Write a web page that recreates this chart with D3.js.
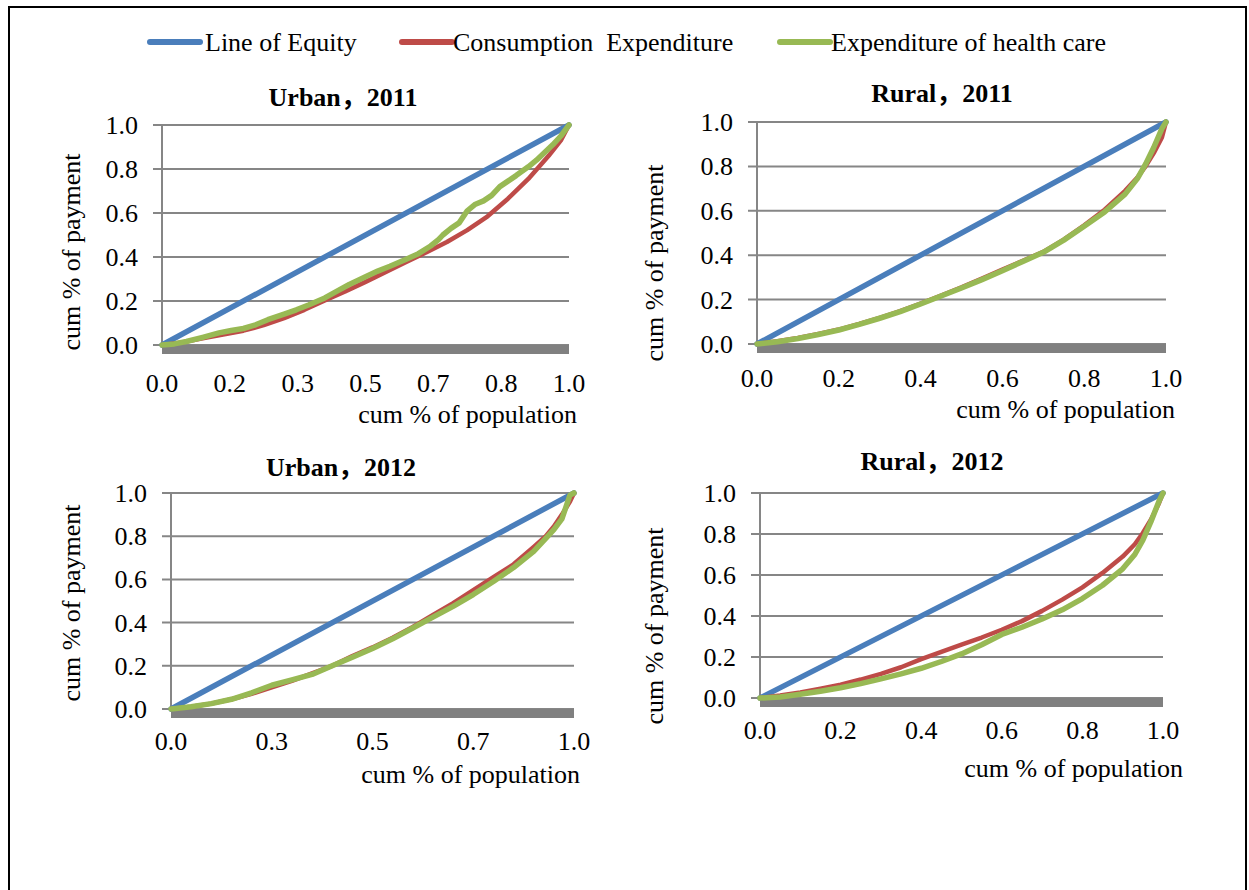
<!DOCTYPE html>
<html><head><meta charset="utf-8">
<script src="https://cdn.jsdelivr.net/npm/d3@7"></script>
<style>body{margin:0;background:#fff}svg{display:block}</style>
</head><body><svg id="c" width="1249" height="890"></svg>
<script>
// ---------- data ----------
const seriesNames = ["Line of Equity", "Consumption  Expenditure", "Expenditure of health care"];
const panelTitles = ["Urban，2011", "Rural，2011", "Urban，2012", "Rural，2012"];
const yTickValues = [0, 0.2, 0.4, 0.6, 0.8, 1.0];
const yTickLabels = ["0.0", "0.2", "0.4", "0.6", "0.8", "1.0"];
const xTickValuesU11 = [0, 0.1667, 0.3333, 0.5, 0.6667, 0.8333, 1];
const xTickLabelsU11 = ["0.0", "0.2", "0.3", "0.5", "0.7", "0.8", "1.0"];
const xTickValuesR11 = [0, 0.2, 0.4, 0.6, 0.8, 1];
const xTickLabelsR11 = ["0.0", "0.2", "0.4", "0.6", "0.8", "1.0"];
const xTickValuesU12 = [0, 0.25, 0.5, 0.75, 1];
const xTickLabelsU12 = ["0.0", "0.3", "0.5", "0.7", "1.0"];
const xTickValuesR12 = [0, 0.2, 0.4, 0.6, 0.8, 1];
const xTickLabelsR12 = ["0.0", "0.2", "0.4", "0.6", "0.8", "1.0"];
const xAxisTitle = "cum % of population";
const yAxisTitle = "cum % of payment";

const equityPop = [0, 1];
const equityShare = [0, 1];

// Urban 2011
const u11ConsPop = [0,.05,.1,.15,.2,.25,.3,.35,.4,.45,.5,.55,.6,.65,.7,.75,.8,.85,.9,.95,.98,1];
const u11Cons    = [0,.012,.03,.047,.065,.09,.122,.16,.202,.243,.287,.332,.377,.422,.468,.522,.585,.665,.755,.86,.93,1];
const u11HealthPop = [0,.03,.06,.1,.14,.17,.2,.23,.26,.3,.33,.36,.4,.43,.46,.5,.53,.56,.6,.63,.66,.68,.69,.71,.73,.75,.77,.79,.81,.83,.85,.87,.9,.92,.94,.96,.98,1];
const u11Health    = [0,.005,.016,.035,.055,.066,.075,.092,.115,.14,.16,.182,.214,.245,.275,.31,.336,.358,.39,.415,.45,.48,.5,.53,.555,.61,.64,.655,.68,.72,.745,.77,.81,.84,.875,.91,.95,1];

// Rural 2011
const r11Pop    = [0,.05,.1,.15,.2,.25,.3,.35,.4,.45,.5,.55,.6,.65,.7,.75,.8,.85,.9,.93,.95,.97,.99,1];
const r11Cons   = [0,.012,.027,.045,.065,.09,.118,.148,.182,.218,.255,.295,.335,.375,.415,.47,.535,.605,.69,.75,.8,.86,.93,1];
const r11Health = [0,.01,.025,.043,.063,.088,.116,.146,.18,.216,.252,.29,.33,.372,.413,.468,.53,.595,.675,.745,.81,.885,.97,1];

// Urban 2012
const u12Pop    = [0,.05,.1,.15,.2,.25,.3,.35,.4,.45,.5,.55,.6,.65,.7,.75,.8,.85,.9,.93,.95,.97,.99,1];
const u12Cons   = [0,.01,.025,.045,.07,.1,.13,.165,.2,.245,.285,.33,.38,.435,.49,.55,.61,.67,.75,.8,.845,.9,.96,1];
const u12Health = [0,.01,.025,.045,.075,.11,.135,.16,.2,.24,.28,.325,.375,.425,.475,.53,.59,.655,.73,.79,.83,.88,.99,1];

// Rural 2012
const r12Pop    = [0,.05,.1,.15,.2,.25,.3,.35,.4,.45,.5,.55,.6,.65,.7,.75,.8,.85,.9,.93,.95,.97,.99,1];
const r12Cons   = [0,.012,.027,.045,.065,.09,.118,.15,.19,.225,.26,.295,.333,.375,.425,.48,.54,.61,.69,.75,.805,.87,.95,1];
const r12Health = [0,.005,.018,.033,.05,.07,.093,.118,.145,.178,.215,.26,.31,.345,.385,.43,.485,.55,.63,.7,.77,.86,.96,1];

// ---------- layout / style ----------
const colors = ["#4A7EBB", "#BE4B48", "#98B954"];
const widths = [5.5, 4.5, 5.5];
const FONT = "'Liberation Serif','Times New Roman','Noto Sans CJK SC',serif";

const panels = [
  { title: panelTitles[0], x0: 162, x1: 569, yT: 125, yB: 345, tx: 343, ty: 106, xly: 47, xtx: 577, xty: 423, ytx: 80, yty: 252,
    xv: xTickValuesU11, xl: xTickLabelsU11,
    series: [[equityPop, equityShare], [u11ConsPop, u11Cons], [u11HealthPop, u11Health]] },
  { title: panelTitles[1], x0: 757, x1: 1166, yT: 122, yB: 344, tx: 942, ty: 102, xly: 43, xtx: 1175, xty: 418, ytx: 663, yty: 263,
    xv: xTickValuesR11, xl: xTickLabelsR11,
    series: [[equityPop, equityShare], [r11Pop, r11Cons], [r11Pop, r11Health]] },
  { title: panelTitles[2], x0: 171, x1: 574, yT: 493, yB: 709, tx: 341, ty: 476, xly: 41, xtx: 580, xty: 783, ytx: 80, yty: 603,
    xv: xTickValuesU12, xl: xTickLabelsU12,
    series: [[equityPop, equityShare], [u12Pop, u12Cons], [u12Pop, u12Health]] },
  { title: panelTitles[3], x0: 760, x1: 1163, yT: 493, yB: 698, tx: 932, ty: 470, xly: 41, xtx: 1183, xty: 777, ytx: 663, yty: 626,
    xv: xTickValuesR12, xl: xTickLabelsR12,
    series: [[equityPop, equityShare], [r12Pop, r12Cons], [r12Pop, r12Health]] }
];

const svg = d3.select("#c");
svg.append("rect").attr("width", 1249).attr("height", 890).attr("fill", "#fff");

// frame
svg.append("path").attr("d", "M9,890 L9,7 L1246,7 L1246,890")
  .attr("fill", "none").attr("stroke", "#000").attr("stroke-width", 2);

// legend
const legendItems = [
  { lx: 148, tx: 205 },
  { lx: 400, tx: 453 },
  { lx: 778, tx: 831 }
];
legendItems.forEach((it, i) => {
  svg.append("line").attr("x1", it.lx + 2).attr("x2", it.lx + 52).attr("y1", 42).attr("y2", 42)
    .attr("stroke", colors[i]).attr("stroke-width", 6).attr("stroke-linecap", "round");
  svg.append("text").attr("x", it.tx).attr("y", 51).attr("font-family", FONT).attr("font-size", 26)
    .attr("fill", "#000").text(seriesNames[i]).style("white-space", "pre");
});

panels.forEach(p => {
  const g = svg.append("g");
  const x = d3.scaleLinear().domain([0, 1]).range([p.x0, p.x1]);
  const y = d3.scaleLinear().domain([0, 1]).range([p.yB, p.yT]);

  // gridlines + outward ticks
  g.selectAll(".grid").data(yTickValues).join("line")
    .attr("x1", p.x0 - 9).attr("x2", p.x1).attr("y1", d => y(d)).attr("y2", d => y(d))
    .attr("stroke", "#868686").attr("stroke-width", 2);
  // y axis line
  g.append("line").attr("x1", p.x0).attr("x2", p.x0).attr("y1", p.yT).attr("y2", p.yB)
    .attr("stroke", "#868686").attr("stroke-width", 2);
  // thick x-axis bar
  g.append("rect").attr("x", p.x0).attr("y", p.yB).attr("width", p.x1 - p.x0).attr("height", 9)
    .attr("fill", "#808080");

  // y tick labels
  g.selectAll(".yl").data(yTickValues).join("text")
    .attr("x", p.x0 - 24).attr("y", d => y(d) + 9).attr("text-anchor", "end")
    .attr("font-family", FONT).attr("font-size", 26).text((d, i) => yTickLabels[i]);
  // x tick labels
  g.selectAll(".xl").data(p.xv).join("text")
    .attr("x", d => x(d)).attr("y", p.yB + p.xly).attr("text-anchor", "middle")
    .attr("font-family", FONT).attr("font-size", 26).text((d, i) => p.xl[i]);

  // series
  const line = d3.line().x(d => x(d[0])).y(d => y(d[1]));
  p.series.forEach((s, i) => {
    const pts = s[0].map((v, k) => [v, s[1][k]]);
    g.append("path").attr("d", line(pts)).attr("fill", "none")
      .attr("stroke", colors[i]).attr("stroke-width", widths[i])
      .attr("stroke-linejoin", "round").attr("stroke-linecap", "round");
  });

  // titles
  g.append("text").attr("x", p.tx).attr("y", p.ty).attr("text-anchor", "middle")
    .attr("font-family", FONT).attr("font-weight", "bold").attr("font-size", 26).text(p.title);
  g.append("text").attr("x", p.xtx).attr("y", p.xty).attr("text-anchor", "end")
    .attr("font-family", FONT).attr("font-size", 26).text(xAxisTitle);
  g.append("text").attr("transform", `translate(${p.ytx},${p.yty}) rotate(-90)`)
    .attr("text-anchor", "middle").attr("font-family", FONT).attr("font-size", 26).text(yAxisTitle);
});
</script></body></html>
